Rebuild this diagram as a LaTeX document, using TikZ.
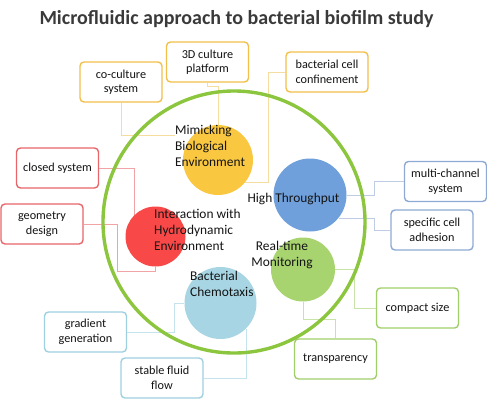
\documentclass[tikz,border=0pt]{standalone}
\usepackage{fontspec}
\setmainfont{Carlito}
\usetikzlibrary{calc}
\definecolor{cYel}{HTML}{FAC741}
\definecolor{cBlu}{HTML}{6FA0DC}
\definecolor{cRed}{HTML}{F84848}
\definecolor{cGrn}{HTML}{A8D46F}
\definecolor{cLbl}{HTML}{A7D5E3}
\definecolor{cBig}{HTML}{8CC63E}
\definecolor{bYel}{HTML}{F2C04A}
\definecolor{bRed}{HTML}{E8656A}
\definecolor{bBlu}{HTML}{8DA9D4}
\definecolor{bLbl}{HTML}{9ED0E0}
\definecolor{bGrn}{HTML}{A0CF6A}
\definecolor{lYel}{HTML}{F5DDA0}
\definecolor{lRed}{HTML}{F0A4A6}
\definecolor{lBlu}{HTML}{BFCDE4}
\definecolor{lLbl}{HTML}{C4E3EC}
\definecolor{lGrn}{HTML}{C8E2A8}
\definecolor{titlegray}{HTML}{3A3A3A}
\definecolor{txt}{HTML}{141414}
\begin{document}
\begin{tikzpicture}[x=1pt,y=-1pt,
  box/.style={draw, fill=white, rounded corners=4pt, line width=1.4pt,
    minimum width=82pt, minimum height=40pt, inner sep=0pt, align=center,
    text=txt, font=\fontsize{12.2}{14.5}\selectfont},
  circ/.style={circle, inner sep=0pt, draw=none},
  ctext/.style={text=txt, inner sep=0pt, font=\fontsize{13.4}{16}\selectfont},
  conn/.style={line width=0.7pt}]
\useasboundingbox (0,0) rectangle (487,400);
% title
\node[text=titlegray, font=\fontsize{20}{24}\selectfont\bfseries] (title) at (236.5,19) {Microfluidic approach to bacterial biofilm study};
% boxes
\node[box, draw=bYel] (co) at (121,82) {co-culture\\system};
\node[box, draw=bYel] (d3) at (207.5,62) {3D culture\\platform};
\node[box, draw=bYel] (bcc) at (327,72) {bacterial cell\\confinement};
\node[box, draw=bRed] (cl) at (57.5,168) {closed system};
\node[box, draw=bRed] (ge) at (42,224) {geometry\\design};
\node[box, draw=bBlu] (mc) at (445.5,181.5) {multi-channel\\system};
\node[box, draw=bBlu] (sp) at (432,230) {specific cell\\adhesion};
\node[box, draw=bGrn] (cs) at (417.5,308) {compact size};
\node[box, draw=bGrn] (tr) at (335.5,359) {transparency};
\node[box, draw=bLbl] (gr) at (85.5,332) {gradient\\generation};
\node[box, draw=bLbl] (sf) at (162,378) {stable fluid\\flow};
% circles (nodes, drawn later)
\path node[circ, minimum size=70pt] (yel) at (218,160) {}
      node[circ, minimum size=73pt] (blu) at (310,195) {}
      node[circ, minimum size=60pt] (red) at (155.5,236.5) {}
      node[circ, minimum size=64pt] (grn) at (303,269.5) {}
      node[circ, minimum size=72pt] (lbl) at (220.5,303) {};
\coordinate (coend) at (175,135);
% connectors
\draw[conn, lYel] (co.south) |- (coend);
\draw[conn, lYel] (d3.south) -- ++(0,4) -| (yel.north);
\draw[conn, lYel] (bcc.west) -- ++(-17,0) |- (yel.-40);
\draw[conn, lBlu] (mc.west) -- ++(-29,0) |- (blu.east);
\draw[conn, lBlu] (sp.west) -- ++(-16,0) |- (blu.-39);
\draw[conn, lRed] (cl.east) -| (red.135);
\draw[conn, lRed] (ge.east) -- ++(34,0) -- ++(0,47) -| (red.south);
\draw[conn, lGrn] (cs.west) -- ++(-21,0) |- (grn.east);
\draw[conn, lGrn] (tr.north) -- ++(0,-19) -| (grn.south);
\draw[conn, lLbl] (gr.east) -- ++(47,0) |- (lbl.west);
\draw[conn, lLbl] (sf.east) -| (lbl.-45);
% big circle
\node[circle, draw=cBig, line width=3.4pt, minimum size=262pt, inner sep=0pt] (big) at (234,222) {};
% small circles
\fill[cYel] (yel) circle (35pt);
\fill[cBlu] (blu) circle (36.5pt);
\fill[cRed] (red) circle (30pt);
\fill[cGrn] (grn) circle (32pt);
\fill[cLbl] (lbl) circle (36pt);
% circle texts
\node[ctext, anchor=west, align=left] (tmim) at (175,146) {Mimicking\\Biological\\Environment};
\node[ctext] (thig) at (293.5,199) {High Throughput};
\node[ctext, anchor=west, align=left] (tint) at (154,230) {Interaction with\\Hydrodynamic\\Environment};
\node[ctext, align=center] (trea) at (282,255) {Real-time\\Monitoring};
\node[ctext, anchor=west, align=left] (tbac) at (190,284) {Bacterial\\Chemotaxis};
\end{tikzpicture}
\end{document}
